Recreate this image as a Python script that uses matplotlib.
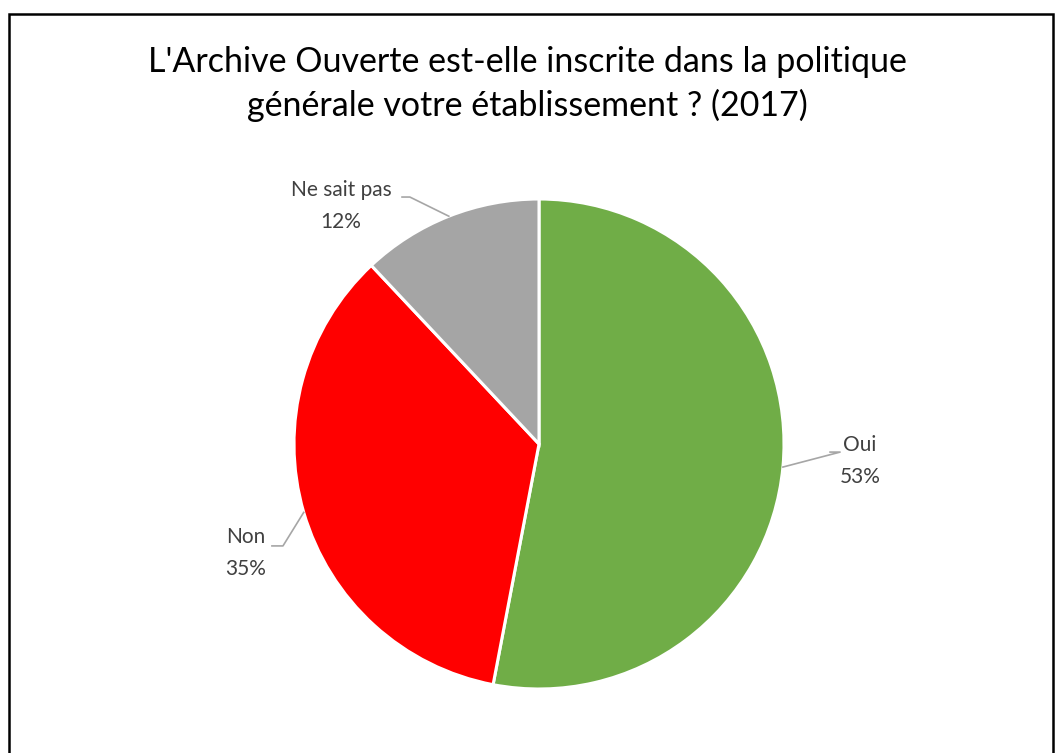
import numpy as np
import matplotlib
matplotlib.use("Agg")
import matplotlib.pyplot as plt

# Survey answers (percent)
labels = ["Oui", "Non", "Ne sait pas"]
values = [53, 35, 12]
colors = ["#70AD47", "#FF0000", "#A5A5A5"]

title = "L'Archive Ouverte est-elle inscrite dans la politique\ngénérale votre établissement ? (2017)"

W, H = 1055, 753
fig = plt.figure(figsize=(W / 100, H / 100), dpi=100)
plt.rcParams["font.family"] = ["Lato", "DejaVu Sans"]

# frame around the chart area (left / top / right)
frame = fig.add_axes([0, 0, 1, 1])
frame.set_xlim(0, W)
frame.set_ylim(H, 0)
frame.axis("off")
frame.plot([9, 9, 1053, 1053], [H + 5, 14, 14, H + 5], color="black", lw=1.8,
           solid_joinstyle="miter")

fig.text(0.5, 1 - 84 / H, title, ha="center", va="center", fontsize=24.5,
         color="black", linespacing=1.42)

# pie axes: centre (539, 444) px, radius 245 px
cx, cy, r = 539, 444, 245
ax = fig.add_axes([(cx - r) / W, (H - cy - r) / H, 2 * r / W, 2 * r / H])

wedges, _ = ax.pie(values, colors=colors, startangle=90, counterclock=False,
                   radius=1, wedgeprops=dict(edgecolor="white", linewidth=2.2))
ax.set_xlim(-1, 1)
ax.set_ylim(-1, 1)
ax.axis("off")

# label placement (text centre, elbow x-range, elbow y)
text_pos = [(1.31, -0.07), (-1.196, -0.445), (-0.808, 0.971)]
elbows = [((1.229, 1.188), -0.033), ((-1.045, -1.09), -0.416), ((-0.527, -0.559), 1.008)]

for w, lab, val, tp, (ex, ey) in zip(wedges, labels, values, text_pos, elbows):
    ang = np.deg2rad((w.theta1 + w.theta2) / 2)
    px, py = np.cos(ang), np.sin(ang)
    ax.plot([px, ex[0], ex[1]], [py, ey, ey], color="#A6A6A6", lw=1.2,
            clip_on=False)
    ax.text(tp[0], tp[1], f"{lab}\n{val}%", ha="center", va="center",
            fontsize=15, color="#404040", linespacing=1.75)

fig.savefig("out.png", dpi=100)
